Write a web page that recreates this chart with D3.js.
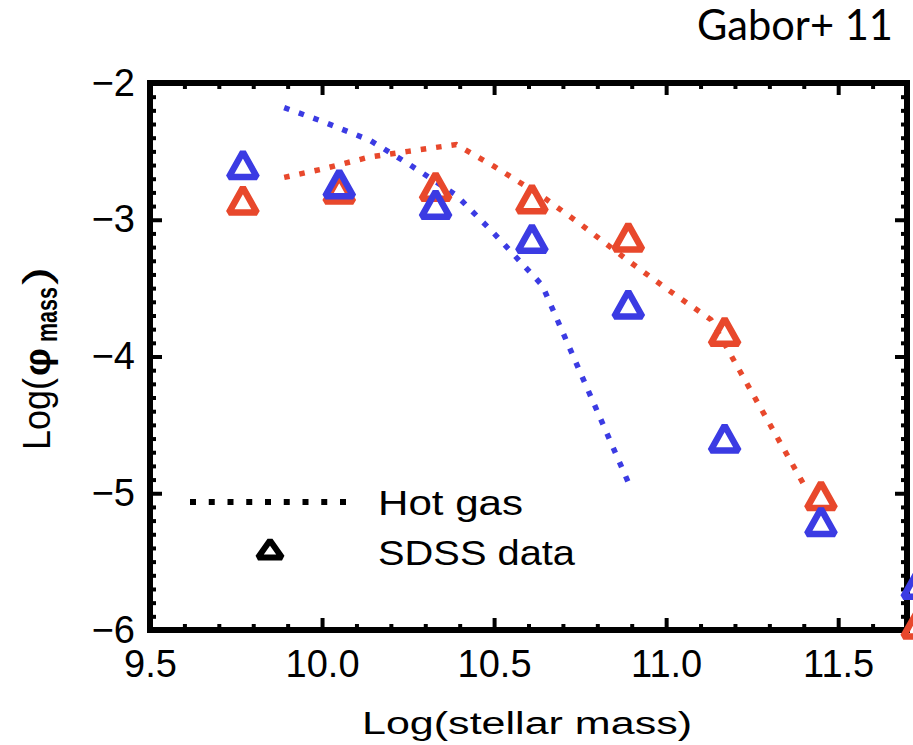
<!DOCTYPE html>
<html>
<head>
<meta charset="utf-8">
<script src="https://cdn.jsdelivr.net/npm/d3@7/dist/d3.min.js"></script>
<style>
  html, body { margin: 0; padding: 0; background: #fff; }
  svg { display: block; }
</style>
</head>
<body>
<svg id="chart" width="913" height="745"></svg>
<script>
const massBins = [9.77, 10.05, 10.33, 10.61, 10.89, 11.17, 11.45, 11.73];
const sdssRed  = [-2.85, -2.77, -2.75, -2.84, -3.12, -3.81, -5.01, -5.95];
const sdssBlue = [-2.59, -2.73, -2.88, -3.13, -3.61, -4.59, -5.20, -5.66];

const hotRedMass = [9.89, 10.0, 10.14, 10.25, 10.39, 10.5, 10.64, 10.75, 10.89, 11.01, 11.13, 11.41];
const hotRedPhi  = [-2.69, -2.63, -2.54, -2.50, -2.45, -2.61, -2.83, -3.03, -3.30, -3.52, -3.73, -4.98];
const hotBlueMass = [9.89, 10.0, 10.14, 10.25, 10.39, 10.5, 10.64, 10.89];
const hotBluePhi  = [-2.18, -2.28, -2.42, -2.59, -2.82, -3.10, -3.48, -4.92];

const xTicks = [9.5, 10.0, 10.5, 11.0, 11.5];
const yTicks = [-6, -5, -4, -3, -2];

const RED = "#e8482c";
const BLUE = "#3b3be3";

const svg = d3.select("#chart");

const x = d3.scaleLinear().domain([9.5, 11.7]).range([150, 907]);
const y = d3.scaleLinear().domain([-6, -2]).range([630, 83]);

const tickFont = "'Liberation Sans', Arial, sans-serif";

// minor ticks every 0.1, skip the majors
const xMinor = d3.range(9.6, 11.7, 0.1).filter(v => Math.abs(v * 2 - Math.round(v * 2)) > 0.01);
const yMinor = d3.range(-5.9, -2, 0.1).filter(v => Math.abs(v - Math.round(v)) > 0.01);

function styleAxis(g) {
    g.select(".domain").remove();
    g.selectAll(".tick line").attr("stroke", "#000").attr("stroke-width", 4);
    g.selectAll(".tick text")
        .attr("fill", "#000")
        .style("font-family", tickFont)
        .style("font-size", "38px");
}

// bottom + top
svg.append("g").attr("transform", `translate(0,${y(-6)})`)
    .call(d3.axisBottom(x).tickValues(xTicks).tickSize(-12).tickPadding(20).tickFormat(d3.format(".1f")))
    .call(styleAxis);
svg.append("g").attr("transform", `translate(0,${y(-6)})`)
    .call(d3.axisBottom(x).tickValues(xMinor).tickSize(-6).tickFormat(""))
    .call(styleAxis);
svg.append("g").attr("transform", `translate(0,${y(-2)})`)
    .call(d3.axisTop(x).tickValues(xTicks).tickSize(-12).tickFormat(""))
    .call(styleAxis);
svg.append("g").attr("transform", `translate(0,${y(-2)})`)
    .call(d3.axisTop(x).tickValues(xMinor).tickSize(-6).tickFormat(""))
    .call(styleAxis);

// left + right
svg.append("g").attr("transform", `translate(${x(9.5)},0)`)
    .call(d3.axisLeft(y).tickValues(yTicks).tickSize(-12).tickPadding(15).tickFormat(d => "\u2212" + Math.abs(d)))
    .call(styleAxis);
svg.append("g").attr("transform", `translate(${x(9.5)},0)`)
    .call(d3.axisLeft(y).tickValues(yMinor).tickSize(-6).tickFormat(""))
    .call(styleAxis);
svg.append("g").attr("transform", `translate(${x(11.7)},0)`)
    .call(d3.axisRight(y).tickValues(yTicks).tickSize(-12).tickFormat(""))
    .call(styleAxis);
svg.append("g").attr("transform", `translate(${x(11.7)},0)`)
    .call(d3.axisRight(y).tickValues(yMinor).tickSize(-6).tickFormat(""))
    .call(styleAxis);

// frame
svg.append("rect")
    .attr("x", x(9.5)).attr("y", y(-2))
    .attr("width", x(11.7) - x(9.5)).attr("height", y(-6) - y(-2))
    .attr("fill", "none").attr("stroke", "#000").attr("stroke-width", 6);

// dotted model lines
const line = d3.line().x(d => x(d[0])).y(d => y(d[1]));

function dotted(mass, phi, color) {
    svg.append("path")
        .datum(mass.map((m, i) => [m, phi[i]]))
        .attr("d", line)
        .attr("fill", "none")
        .attr("stroke", color)
        .attr("stroke-width", 5.5)
        .attr("stroke-dasharray", "5.5 10");
}
dotted(hotRedMass, hotRedPhi, RED);
dotted(hotBlueMass, hotBluePhi, BLUE);

// open triangles, bbox centred on the point
function triPath(cx, cy, w, h) {
    return `M${cx - w / 2},${cy + h / 2}L${cx},${cy - h / 2}L${cx + w / 2},${cy + h / 2}Z`;
}

function triangles(vals, color) {
    svg.append("g").selectAll("path")
        .data(massBins.map((m, i) => [m, vals[i]]))
        .join("path")
        .attr("d", d => triPath(x(d[0]), y(d[1]) + 0.8, 28, 25))
        .attr("fill", "none")
        .attr("stroke", color)
        .attr("stroke-width", 6.5)
        .attr("stroke-linejoin", "miter")
        .attr("stroke-miterlimit", 1.4);
}
triangles(sdssRed, RED);
triangles(sdssBlue, BLUE);

// legend
svg.append("line")
    .attr("x1", 190).attr("x2", 346).attr("y1", 502).attr("y2", 502)
    .attr("stroke", "#000").attr("stroke-width", 6)
    .attr("stroke-dasharray", "6 12.75");
svg.append("path")
    .attr("d", triPath(270, 549, 24, 17))
    .attr("fill", "none").attr("stroke", "#000").attr("stroke-width", 6)
    .attr("stroke-linejoin", "miter").attr("stroke-miterlimit", 1.4);

const legendFont = { family: tickFont, size: "35px" };
svg.append("text").attr("x", 378).attr("y", 515)
    .attr("textLength", 145).attr("lengthAdjust", "spacingAndGlyphs")
    .style("font-family", legendFont.family).style("font-size", legendFont.size)
    .text("Hot gas");
svg.append("text").attr("x", 378).attr("y", 565)
    .attr("textLength", 197).attr("lengthAdjust", "spacingAndGlyphs")
    .style("font-family", legendFont.family).style("font-size", legendFont.size)
    .text("SDSS data");

// x title
svg.append("text")
    .attr("x", 527).attr("y", 734)
    .attr("text-anchor", "middle")
    .attr("textLength", 330).attr("lengthAdjust", "spacingAndGlyphs")
    .style("font-family", tickFont).style("font-size", "31px")
    .text("Log(stellar  mass)");

// y title, built from pieces so phi gets its subscript
const yt = svg.append("g").attr("transform", "translate(50,357) rotate(-90)")
    .style("font-family", tickFont);
yt.append("text").attr("x", -93).attr("y", 0)
    .attr("textLength", 72).attr("lengthAdjust", "spacingAndGlyphs")
    .style("font-size", "38px").text("Log(");
yt.append("text").attr("x", -19).attr("y", 0)
    .attr("textLength", 28).attr("lengthAdjust", "spacingAndGlyphs")
    .style("font-size", "36px").style("font-weight", "bold").text("\u03c6");
yt.append("text").attr("x", 15).attr("y", 7)
    .attr("textLength", 55).attr("lengthAdjust", "spacingAndGlyphs")
    .style("font-size", "30px").style("font-weight", "bold").text("mass");
yt.append("text").attr("x", 72).attr("y", 0)
    .attr("textLength", 18).attr("lengthAdjust", "spacingAndGlyphs")
    .style("font-size", "38px").text(")");

// citation in the corner
svg.append("text")
    .attr("x", 697).attr("y", 40)
    .attr("textLength", 196).attr("lengthAdjust", "spacingAndGlyphs")
    .style("font-family", "Lato, 'Open Sans', sans-serif").style("font-size", "42px")
    .text("Gabor+ 11");
</script>
</body>
</html>
